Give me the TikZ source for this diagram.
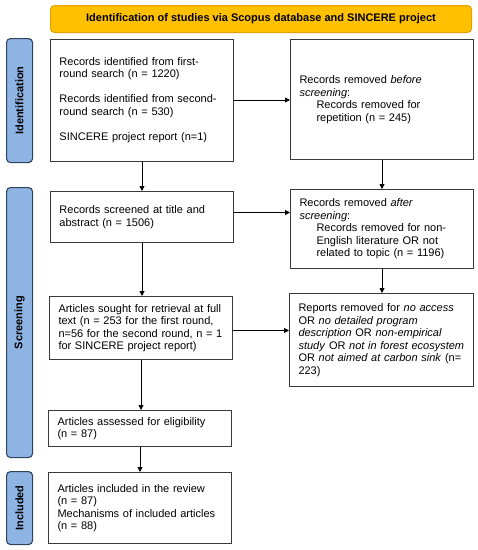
\documentclass[tikz,border=0pt]{standalone}
\usepackage{fontspec}
\setmainfont{Liberation Sans}
\usetikzlibrary{arrows.meta}
\definecolor{titlefill}{HTML}{FFC000}
\definecolor{titledraw}{HTML}{E8A000}
\definecolor{tabfill}{HTML}{8EB4E3}
\definecolor{tabdraw}{HTML}{2F435E}
\definecolor{boxdraw}{HTML}{3A3A3A}
\tikzset{
  every node/.style={font=\fontsize{11}{12.5}\selectfont},
  titlebox/.style={draw=titledraw, fill=titlefill, line width=1pt, rounded corners=4pt, anchor=north west, inner sep=0pt, font=\fontsize{11}{12.5}\selectfont\bfseries},
  tabbox/.style={draw=tabdraw, fill=tabfill, line width=1.1pt, rounded corners=4pt, anchor=north west, inner sep=0pt},
  tablabel/.style={rotate=90, font=\fontsize{11}{12.5}\selectfont\bfseries},
  flowbox/.style={draw=boxdraw, line width=1pt, anchor=north west, inner xsep=9pt, inner ysep=0pt, align=left},
  arr/.style={-{Triangle[length=5pt,width=5pt]}, line width=0.9pt, black},
}
\newcommand{\ind}{\hspace*{17pt}}
\begin{document}
\begin{tikzpicture}[x=1pt,y=-1pt]
\useasboundingbox (0,0) rectangle (478,550);
% title
\node[titlebox, minimum width=421pt, minimum height=27pt] (title) at (50,5) {Identification of studies via Scopus database and SINCERE project};
% side tabs
\node[tabbox, minimum width=26pt, minimum height=124pt] (tabid) at (6,38) {};
\node[tablabel] (tabidlabel) at (tabid.center) {Identification};
\node[tabbox, minimum width=26pt, minimum height=270pt] (tabsc) at (6,187) {};
\node[tablabel] (tabsclabel) at (tabsc.center) {Screening};
\node[tabbox, minimum width=26pt, minimum height=73pt] (tabin) at (6,471) {};
\node[tablabel] (tabinlabel) at (tabin.center) {Included};
% left column
\node[flowbox, text width=165pt, minimum height=122pt] (ident) at (50,38.5) {Records identified from first-\\round search (n = 1220)\\[12.5pt]Records identified from second-\\round search (n = 530)\\[12.5pt]SINCERE project report (n=1)};
\node[flowbox, text width=165pt, minimum height=51pt] (screened) at (50,191) {Records screened at title and\\abstract (n = 1506)};
\node[flowbox, text width=165pt, minimum height=63pt] (sought) at (49,296) {Articles sought for retrieval at full\\text (n = 253 for the first round,\\n=56 for the second round, n = 1\\for SINCERE project report)};
\node[flowbox, text width=165pt, minimum height=36pt] (assessed) at (48,410) {Articles assessed for eligibility\\(n = 87)};
\node[flowbox, text width=165pt, minimum height=71pt] (included) at (48,472) {Articles included in the review\\(n = 87)\\Mechanisms of included articles\\(n = 88)};
% right column
\node[flowbox, text width=165pt, minimum height=120pt] (removedbefore) at (290,39) {Records removed \textit{before}\\\textit{screening}:\\\ind Records removed for\\\ind repetition (n = 245)};
\node[flowbox, text width=165pt, minimum height=79pt] (removedafter) at (290,189) {Records removed \textit{after}\\\textit{screening}:\\\ind Records removed for non-\\\ind English literature OR not\\\ind related to topic (n = 1196)};
\node[flowbox, text width=166pt, minimum height=93pt] (reports) at (289,293) {Reports removed for \textit{no access}\\OR \textit{no detailed program}\\\textit{description} OR \textit{non-empirical}\\\textit{study} OR \textit{not in forest ecosystem}\\OR \textit{not aimed at carbon sink} (n=\\223)};
% arrows
\draw[arr] (ident.east) -- (ident.east -| removedbefore.west);
\draw[arr] ([yshift=4.5pt]screened.east) -- ([yshift=4.5pt]screened.east -| removedafter.west);
\draw[arr] ([yshift=-2.5pt]sought.east) -- ([yshift=-2.5pt]sought.east -| reports.west);
\draw[arr] (ident.south) -- (ident.south |- screened.north);
\draw[arr] (screened.south) -- (screened.south |- sought.north);
\draw[arr] (sought.south) -- (sought.south |- assessed.north);
\draw[arr] (assessed.south) -- (assessed.south |- included.north);
\draw[arr] (removedbefore.south) -- (removedbefore.south |- removedafter.north);
\draw[arr] (removedafter.south) -- (removedafter.south |- reports.north);
\end{tikzpicture}
\end{document}
